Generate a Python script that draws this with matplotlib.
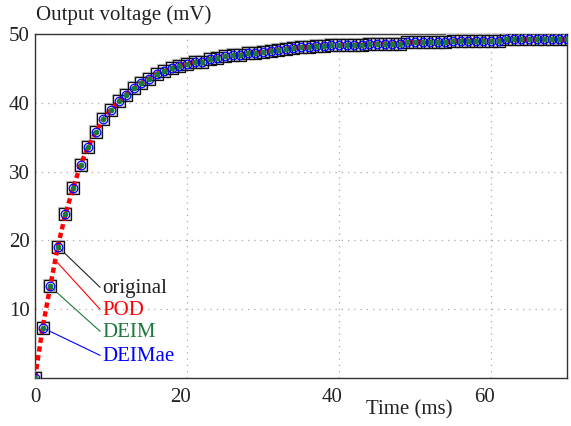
import numpy as np
import matplotlib
matplotlib.use("Agg")
import matplotlib.pyplot as plt
from matplotlib.transforms import ScaledTranslation

plt.rcParams['font.family'] = ['Liberation Serif', 'DejaVu Serif']

# Sampling times (ms) and output voltage (mV)
time_ms = list(range(0, 71))
original = [
    0.0, 7.3, 13.3, 19.1, 23.8, 27.6, 31.0, 33.6, 35.8, 37.6,
    39.0, 40.2, 41.2, 42.1, 42.9, 43.5, 44.2, 44.6, 45.0, 45.4,
    45.7, 45.9, 46.0, 46.4, 46.5, 46.8, 46.9, 46.9, 47.2, 47.3,
    47.4, 47.6, 47.7, 47.8, 48.0, 48.1, 48.1, 48.3, 48.3, 48.4,
    48.4, 48.4, 48.4, 48.4, 48.6, 48.6, 48.6, 48.6, 48.6, 48.8,
    48.8, 48.8, 48.8, 48.8, 48.8, 49.0, 49.0, 49.0, 49.0, 49.0,
    49.0, 49.0, 49.2, 49.2, 49.2, 49.2, 49.2, 49.2, 49.2, 49.2,
    49.2,
]
pod = list(original)
deim = list(original)
deimae = list(original)

x_ticks = [0, 20, 40, 60]
y_ticks = [10, 20, 30, 40, 50]

fig = plt.figure(figsize=(5.71, 4.26), dpi=100)
ax = fig.add_axes([0.0613, 0.1127, 0.9317, 0.8075])

# original: open squares with a faint grey rim
ax.plot(time_ms, original, linestyle='none', marker='s', markersize=9,
        markerfacecolor='none', markeredgecolor='#c4c4c4', markeredgewidth=1.6,
        zorder=2.9)
ax.plot(time_ms, original, linestyle='none', marker='s', markersize=9,
        markerfacecolor='none', markeredgecolor='#111111', markeredgewidth=0.9,
        zorder=3)
ax.plot(time_ms, pod, linestyle=(0, (1.2, 0.8)), color='#ff0000', linewidth=3.2,
        zorder=4)
ax.plot(time_ms, deim, linestyle='none', marker='o', markersize=3.2,
        markerfacecolor='#1a7a3a', markeredgecolor='#1a7a3a', zorder=5)
ax.plot(time_ms, deimae, linestyle='none', marker='o', markersize=6.2,
        markerfacecolor='none', markeredgecolor='#0000ff', markeredgewidth=0.9,
        zorder=6)

ax.set_xlim(0, 70)
ax.set_ylim(0, 50)
ax.set_xticks(x_ticks)
ax.set_yticks(y_ticks)
ax.tick_params(length=0, labelsize=15, colors='#222222')
ax.tick_params(axis='y', pad=4)
ax.tick_params(axis='x', pad=7)
ax.grid(True, linestyle=(0, (1, 4)), color='#aaaaaa', linewidth=0.9)
for s in ax.spines.values():
    s.set_color('#333333')
    s.set_linewidth(1.0)

# nudge the non-zero time labels a little to the left
for lab in ax.get_xticklabels()[1:]:
    lab.set_transform(lab.get_transform() +
                      ScaledTranslation(-7 / 100, 0, fig.dpi_scale_trans))

# Labels pointing at curves
labels = [
    ('original', '#222222', time_ms[3], original[3], 13.2),
    ('POD', '#ff0000', 2.6, (pod[2] + pod[3]) / 2 + 1.0, 10.0),
    ('DEIM', '#1a7a3a', time_ms[2], deim[2], 6.8),
    ('DEIMae', '#0000ff', time_ms[1], deimae[1], 3.3),
]
for name, col, tx, ty, yy in labels:
    ax.plot([tx, 8.55], [ty, yy], color=col, linewidth=0.8, zorder=2)
    ax.text(8.9, yy - 0.15, name, color=col, fontsize=15, va='center', ha='left')

fig.text(0.063, 0.965, 'Output voltage (mV)', fontsize=15, color='#222222',
         ha='left', va='center')
fig.text(0.716, 0.037, 'Time (ms)', fontsize=15, color='#222222',
         ha='center', va='center')

fig.savefig('out.png', dpi=100)
